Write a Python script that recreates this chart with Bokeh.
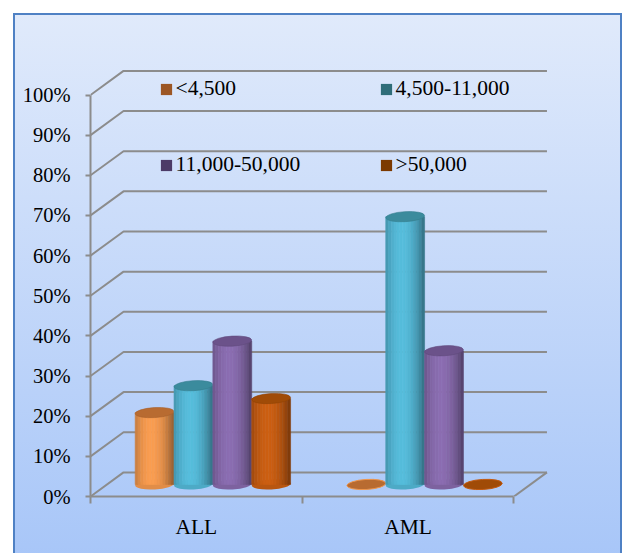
import numpy as np
from bokeh.plotting import figure
from bokeh.models import (Range1d, FixedTicker, PrintfTickFormatter, Legend,
                          LegendItem)
from bokeh.embed import file_html
from bokeh.resources import INLINE

# ---- data -------------------------------------------------------------
categories = ["ALL", "AML"]
series_names = ["<4,500", "4,500-11,000", "11,000-50,000", ">50,000"]
# share of patients (%) in each white-cell-count band, per leukaemia type
wbc_below_4500 = [17.9, 0.0]
wbc_4500_11000 = [24.6, 66.7]
wbc_11000_50000 = [35.7, 33.3]
wbc_above_50000 = [21.4, 0.0]
series_values = [wbc_below_4500, wbc_4500_11000, wbc_11000_50000, wbc_above_50000]
pct_ticks = [0, 10, 20, 30, 40, 50, 60, 70, 80, 90, 100]

# ---- styling ----------------------------------------------------------
body_colors = ["#fa9d50", "#56bddc", "#8b6db1", "#cc5f12"]
top_colors = ["#b86b31", "#3b8b9d", "#6b528a", "#a04b07"]
swatch_colors = ["#9c5624", "#2f6d79", "#4c3b67", "#7b3900"]
GRID = "#8c8c8c"
FONT = "Liberation Serif"

DX = 0.156      # depth offset along x (category units)
DY = 6.0        # depth offset along y (percent units)
BW = 0.1835     # cylinder width (category units)
EH = 2.5        # height of the cylinder end ellipses (percent units)
N_STRIPS = 14   # vertical strips used to shade each cylinder


def shade(hex_color, f):
    r, g, b = (int(hex_color[i:i + 2], 16) for i in (1, 3, 5))
    return "#%02x%02x%02x" % tuple(max(0, min(255, int(round(c * f)))) for c in (r, g, b))


p = figure(width=624, height=553, output_backend="svg", toolbar_location=None,
           x_range=Range1d(0, 2.168), y_range=Range1d(0, 107.1),
           min_border_left=90, min_border_right=75, min_border_top=66,
           min_border_bottom=57)
p.border_fill_color = None
p.background_fill_color = None
p.outline_line_color = None
p.xgrid.visible = False
p.ygrid.visible = False
p.styles = {
    "background": ("linear-gradient(#e0eafb, #a6c5f8) 15px 15px / 605px 560px no-repeat, "
                   "linear-gradient(#4f81c4, #4f81c4) 13px 13px / 609px 570px no-repeat, "
                   "#ffffff"),
}

# ---- walls: gridlines on the side and back, floor edge -----------------
xs, ys = [], []
for v in pct_ticks:
    xs.append([0, DX, len(categories) + DX])
    ys.append([v, v + DY, v + DY])
xs.append([len(categories), len(categories) + DX])
ys.append([0, DY])
p.multi_line(xs, ys, line_color=GRID, line_width=2)

# ---- cylinders ----------------------------------------------------------
t = (np.arange(N_STRIPS) + 0.5) / N_STRIPS
light = 1 - 0.42 * ((t - 0.42) / 0.58) ** 2
base = DY / 2
for i, cat in enumerate(categories):
    for j, vals in enumerate(series_values):
        v = vals[i]
        xc = i + 0.5 + DX / 2 + (j - 1.5) * BW
        if v <= 0:
            p.ellipse(x=[xc], y=[base], width=BW, height=EH, angle=0.06,
                      fill_color=top_colors[j], line_color=shade(body_colors[j], 0.95),
                      line_width=1)
            continue
        p.ellipse(x=[xc], y=[base], width=BW, height=EH, angle=0.06,
                  fill_color=shade(body_colors[j], 0.9), line_color=None)
        lefts = xc - BW / 2 + np.arange(N_STRIPS) * BW / N_STRIPS
        cols = [shade(body_colors[j], f) for f in light]
        p.quad(left=lefts, right=lefts + BW / N_STRIPS, bottom=base, top=base + v,
               fill_color=cols, line_color=cols, line_width=0.6)
        p.ellipse(x=[xc], y=[base + v], width=BW, height=EH, angle=0.06,
                  fill_color=top_colors[j], line_color=shade(top_colors[j], 0.9),
                  line_width=0.6)

# ---- axes ---------------------------------------------------------------
ya = p.yaxis[0]
ya.ticker = FixedTicker(ticks=pct_ticks, minor_ticks=[])
ya.formatter = PrintfTickFormatter(format="%d%%")
ya.bounds = (0, 100)
ya.axis_line_color = GRID
ya.axis_line_width = 2
ya.major_tick_line_color = GRID
ya.major_tick_line_width = 2
ya.major_tick_out = 5
ya.major_tick_in = 0
ya.major_label_standoff = 15
ya.major_label_text_font = FONT
ya.major_label_text_font_size = "20.5px"
ya.major_label_text_color = "#000000"

xa = p.xaxis[0]
xa.ticker = FixedTicker(ticks=[i + 0.5 for i in range(len(categories))],
                        minor_ticks=list(range(len(categories) + 1)))
xa.major_label_overrides = {i + 0.5: c for i, c in enumerate(categories)}
xa.bounds = (0, len(categories))
xa.axis_line_color = GRID
xa.axis_line_width = 2
xa.major_tick_out = 0
xa.major_tick_in = 0
xa.minor_tick_line_color = GRID
xa.minor_tick_line_width = 2
xa.minor_tick_out = 7
xa.minor_tick_in = 0
xa.major_label_standoff = 11
xa.major_label_text_font = FONT
xa.major_label_text_font_size = "21.5px"
xa.major_label_text_color = "#000000"

# ---- legend (two rows of two) ------------------------------------------
# swatch renderers hold a single undrawable (NaN) box so only the legend shows them
nan = float("nan")
swatches = [p.quad(left=[nan], right=[nan], top=[nan], bottom=[nan],
                   fill_color=c, line_color=None)
            for c in swatch_colors]
for row, vy in ((0, 395.0), (1, 319.0)):
    items = [LegendItem(label=series_names[k], renderers=[swatches[k]])
             for k in (2 * row, 2 * row + 1)]
    lg = Legend(items=items, orientation="horizontal", location=(68.6, vy),
                glyph_width=14, glyph_height=14, label_standoff=3,
                label_width=150, spacing=53, padding=0, margin=0,
                border_line_color=None, background_fill_alpha=0,
                label_text_font=FONT, label_text_font_size="21.5px",
                label_text_color="#000000")
    p.add_layout(lg)

open("out.html", "w").write(file_html(p, INLINE))
